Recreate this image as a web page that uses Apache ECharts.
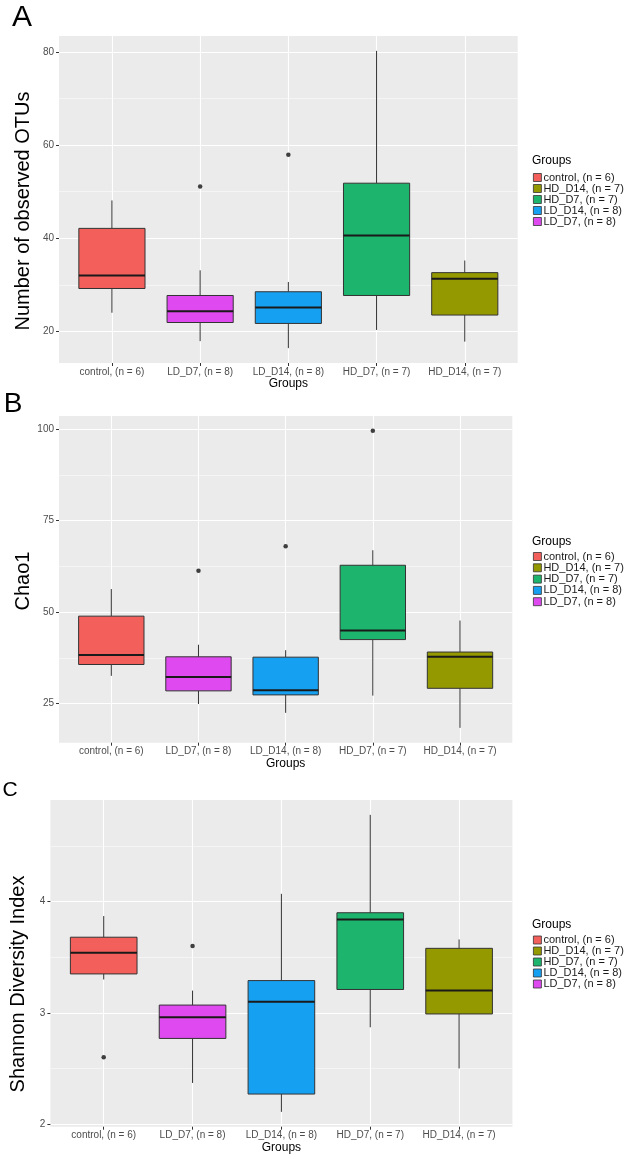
<!DOCTYPE html>
<html><head><meta charset="utf-8">
<script src="https://cdn.jsdelivr.net/npm/echarts@6/dist/echarts.min.js"></script>
<style>html,body{margin:0;padding:0;background:#fff}#chart{width:625px;height:1159px}</style>
</head><body><div id="chart"></div>
<script>
// ---- data ----
const categories = ['control, (n = 6)', 'LD_D7, (n = 8)', 'LD_D14, (n = 8)', 'HD_D7, (n = 7)', 'HD_D14, (n = 7)'];
const legendOrder = ['control, (n = 6)', 'HD_D14, (n = 7)', 'HD_D7, (n = 7)', 'LD_D14, (n = 8)', 'LD_D7, (n = 8)'];
const groupColors = ['#F3605C', '#DE4AEF', '#16A0F2', '#1DB56D', '#959900'];

// [lower whisker, Q1, median, Q3, upper whisker] per category
const otuStats = [[24.0, 29.2, 32.0, 42.1, 48.1], [17.9, 21.9, 24.3, 27.7, 33.1], [16.4, 21.7, 25.1, 28.5, 30.6], [20.3, 27.7, 40.6, 51.8, 80.2], [17.8, 23.5, 31.3, 32.6, 35.2]];
const otuOutliers = [[1, 51.1], [2, 57.9]];
const otuTicks = [20, 40, 60, 80];
const otuMinor = [30, 50, 70];

const chaoStats = [[32.6, 35.7, 38.3, 48.9, 56.3], [24.9, 28.5, 32.3, 37.8, 41.1], [22.5, 27.4, 28.7, 37.7, 39.6], [27.2, 42.5, 45.0, 62.8, 66.9], [18.4, 29.2, 37.8, 39.1, 47.7]];
const chaoOutliers = [[1, 61.3], [2, 68.0], [3, 99.5]];
const chaoTicks = [25, 50, 75, 100];
const chaoMinor = [37.5, 62.5, 87.5];

const shannonStats = [[3.30, 3.35, 3.54, 3.68, 3.87], [2.37, 2.77, 2.96, 3.07, 3.20], [2.11, 2.27, 3.10, 3.29, 4.07], [2.87, 3.21, 3.84, 3.90, 4.78], [2.50, 2.99, 3.20, 3.58, 3.66]];
const shannonOutliers = [[0, 2.60], [1, 3.60]];
const shannonTicks = [2, 3, 4];
const shannonMinor = [2.5, 3.5, 4.5];

// ---- layout ----
const FONT = '"Liberation Sans", Arial, sans-serif';
const panels = [
  { stats: otuStats, outliers: otuOutliers, ticks: otuTicks, minor: otuMinor,
    grid: { left: 59, top: 36, width: 458.7, height: 327 }, legendTop: 172, legendTitleY: 161, gap: 0 },
  { stats: chaoStats, outliers: chaoOutliers, ticks: chaoTicks, minor: chaoMinor,
    grid: { left: 59, top: 416, width: 453.3, height: 326.7 }, legendTop: 551, legendTitleY: 541.5, gap: 0.3 },
  { stats: shannonStats, outliers: shannonOutliers, ticks: shannonTicks, minor: shannonMinor,
    grid: { left: 50.4, top: 800, width: 462, height: 326.7 }, legendTop: 934.5, legendTitleY: 925, gap: 0 }
];

function extent(p) {
  let lo = Infinity, hi = -Infinity;
  p.stats.forEach(s => { lo = Math.min(lo, s[0]); hi = Math.max(hi, s[4]); });
  p.outliers.forEach(o => { lo = Math.min(lo, o[1]); hi = Math.max(hi, o[1]); });
  const span = hi - lo;
  return [lo - 0.05 * span, hi + 0.05 * span];
}

function renderBox(params, api) {
  const x = api.value(0);
  const lo = api.coord([x, api.value(1)]);
  const q1 = api.coord([x, api.value(2)]);
  const md = api.coord([x, api.value(3)]);
  const q3 = api.coord([x, api.value(4)]);
  const hi = api.coord([x, api.value(5)]);
  const w = api.size([0.75, 0])[0];
  const cx = lo[0];
  const color = api.visual('color');
  const stroke = '#333333';
  return { type: 'group', children: [
    { type: 'line', shape: { x1: cx, y1: hi[1], x2: cx, y2: q3[1] }, style: { stroke: stroke, lineWidth: 1 } },
    { type: 'line', shape: { x1: cx, y1: q1[1], x2: cx, y2: lo[1] }, style: { stroke: stroke, lineWidth: 1 } },
    { type: 'rect', shape: { x: cx - w / 2, y: q3[1], width: w, height: q1[1] - q3[1] }, style: { fill: color, stroke: stroke, lineWidth: 1 } },
    { type: 'line', shape: { x1: cx - w / 2, y1: md[1], x2: cx + w / 2, y2: md[1] }, style: { stroke: '#1a1a1a', lineWidth: 2 } }
  ] };
}

const grid = [], xAxis = [], yAxis = [], series = [], legend = [];
panels.forEach((p, k) => {
  const [ymin, ymax] = extent(p);
  grid.push(Object.assign({ show: true, backgroundColor: '#EBEBEB', borderWidth: 0 }, p.grid));
  xAxis.push({
    type: 'value', gridIndex: k, min: -0.6, max: 4.6,
    name: 'Groups', nameLocation: 'middle', nameGap: 15,
    nameTextStyle: { fontFamily: FONT, fontSize: 12, color: '#000' },
    axisLine: { show: false, onZero: false },
    axisTick: { show: true, length: 3, lineStyle: { color: '#333' }, customValues: [0, 1, 2, 3, 4] },
    axisLabel: { customValues: [0, 1, 2, 3, 4], formatter: v => categories[Math.round(v)] || '', fontFamily: FONT, fontSize: 10, color: '#4D4D4D', margin: 4 },
    splitLine: { show: true, lineStyle: { color: '#FFFFFF', width: 1.1 } }
  });
  yAxis.push({
    type: 'value', gridIndex: k, min: ymin, max: ymax,
    axisLine: { show: false, onZero: false },
    axisTick: { show: true, length: 3, lineStyle: { color: '#333' }, customValues: p.ticks },
    axisLabel: { customValues: p.ticks, fontFamily: FONT, fontSize: 10, color: '#4D4D4D', margin: 5 },
    splitLine: { show: true, lineStyle: { color: '#FFFFFF', width: 1.1 } }
  });
  yAxis.push({
    type: 'value', gridIndex: k, min: ymin, max: ymax, position: 'left',
    axisLine: { show: false, onZero: false },
    axisTick: { show: false, customValues: p.minor },
    axisLabel: { show: false, customValues: p.minor },
    splitLine: { show: true, lineStyle: { color: '#FFFFFF', width: 0.5 } }
  });
  categories.forEach((c, i) => {
    series.push({
      type: 'custom', name: c, xAxisIndex: k, yAxisIndex: 2 * k,
      itemStyle: { color: groupColors[i] },
      encode: { x: 0, y: [1, 2, 3, 4, 5] },
      renderItem: renderBox,
      data: [[i].concat(p.stats[i])],
      z: 3
    });
  });
  series.push({
    type: 'scatter', xAxisIndex: k, yAxisIndex: 2 * k, symbolSize: 4.5,
    itemStyle: { color: '#111' }, data: p.outliers, z: 4
  });
  legend.push({
    orient: 'vertical', left: 533, top: p.legendTop, padding: 0, data: legendOrder,
    icon: 'rect', itemWidth: 8, itemHeight: 8, itemGap: p.gap,
    itemStyle: { borderColor: '#333', borderWidth: 0.8 },
    textStyle: { fontFamily: FONT, fontSize: 11, color: '#1a1a1a', padding: [0, 0, 0, -3] },
    selectedMode: false
  });
});

const graphic = [
  { type: 'text', x: 22, y: 18, style: { text: 'A', font: '30px ' + FONT, fill: '#000', textAlign: 'center', textVerticalAlign: 'middle' } },
  { type: 'text', x: 13, y: 404, style: { text: 'B', font: '28px ' + FONT, fill: '#000', textAlign: 'center', textVerticalAlign: 'middle' } },
  { type: 'text', x: 10, y: 790, style: { text: 'C', font: '21px ' + FONT, fill: '#000', textAlign: 'center', textVerticalAlign: 'middle' } },
  { type: 'text', x: 23.5, y: 211, rotation: Math.PI / 2, style: { text: 'Number of observed OTUs', font: '20px ' + FONT, fill: '#000', textAlign: 'center', textVerticalAlign: 'middle' } },
  { type: 'text', x: 23.5, y: 581, rotation: Math.PI / 2, style: { text: 'Chao1', font: '20px ' + FONT, fill: '#000', textAlign: 'center', textVerticalAlign: 'middle' } },
  { type: 'text', x: 18, y: 984, rotation: Math.PI / 2, style: { text: 'Shannon Diversity Index', font: '20px ' + FONT, fill: '#000', textAlign: 'center', textVerticalAlign: 'middle' } },
  { type: 'text', x: 532, y: 161, style: { text: 'Groups', font: '12px ' + FONT, fill: '#000', textVerticalAlign: 'middle' } },
  { type: 'text', x: 532, y: 541.5, style: { text: 'Groups', font: '12px ' + FONT, fill: '#000', textVerticalAlign: 'middle' } },
  { type: 'text', x: 532, y: 925, style: { text: 'Groups', font: '12px ' + FONT, fill: '#000', textVerticalAlign: 'middle' } }
];

const chart = echarts.init(document.getElementById('chart'), null, { renderer: 'canvas' });
chart.setOption({
  backgroundColor: '#FFFFFF',
  animation: false,
  textStyle: { fontFamily: FONT },
  grid, xAxis, yAxis, series, legend, graphic
});
</script></body></html>
